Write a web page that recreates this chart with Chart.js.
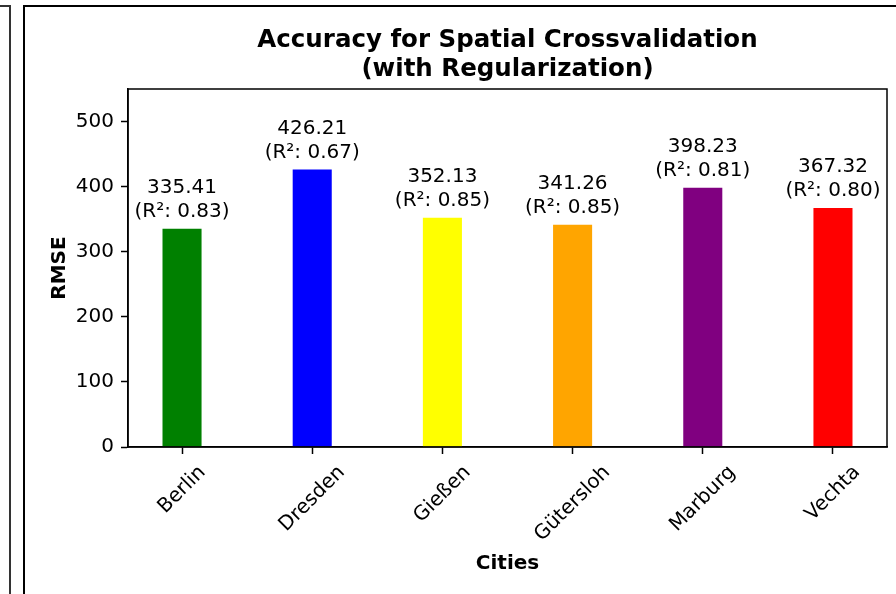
<!DOCTYPE html>
<html>
<head>
<meta charset="utf-8">
<script src="https://cdn.jsdelivr.net/npm/chart.js@4.4.1/dist/chart.umd.min.js"></script>
<style>
  html, body { margin: 0; padding: 0; background: #fff; overflow: hidden; }
  #wrap { position: relative; width: 896px; height: 594px; }
  .panel-left { position: absolute; left: -20px; top: 5px; width: 27px; height: 620px; border: 2px solid #333; }
  .panel-main { position: absolute; left: 23px; top: 5px; width: 920px; height: 620px; border: 2px solid #000; }
  canvas { position: absolute; left: 0; top: 0; }
</style>
</head>
<body>
<div id="wrap">
  <div class="panel-left"></div>
  <div class="panel-main"></div>
  <canvas id="c" width="896" height="594"></canvas>
</div>
<script>
// Spatial cross-validation results per city
const cities = ['Berlin', 'Dresden', 'Gießen', 'Gütersloh', 'Marburg', 'Vechta'];
const rmse = [335.41, 426.21, 352.13, 341.26, 398.23, 367.32];
const r2 = [0.83, 0.67, 0.85, 0.85, 0.81, 0.80];
const barColors = ['green', 'blue', 'yellow', 'orange', 'purple', 'red'];
const yTicks = [0, 100, 200, 300, 400, 500];
const titleLines = ['Accuracy for Spatial Crossvalidation', '(with Regularization)'];
const xTitle = 'Cities';
const yTitle = 'RMSE';

const FONT = '"DejaVu Sans", sans-serif';

// Frame, value annotations, rotated city labels and titles
const annotations = {
  id: 'annotations',
  afterDatasetsDraw(chart) {
    const { ctx, chartArea: a, scales: { x, y } } = chart;
    ctx.save();

    ctx.strokeStyle = '#000';
    ctx.lineWidth = 1.5;
    ctx.strokeRect(a.left, a.top, a.right - a.left, a.bottom - a.top);

    ctx.fillStyle = '#000';
    ctx.font = '20px ' + FONT;
    ctx.textAlign = 'center';
    ctx.textBaseline = 'middle';
    rmse.forEach((v, i) => {
      const px = x.getPixelForValue(i);
      const py = y.getPixelForValue(v);
      ctx.fillText(v.toFixed(2), px, py - 41);
      ctx.fillText('(R²: ' + r2[i].toFixed(2) + ')', px, py - 17);
    });

    const labelTop = a.bottom + 14;
    cities.forEach((c, i) => {
      const w = ctx.measureText(c).width;
      const h = 23.3;
      const half = (w + h) * Math.SQRT1_2 / 2;
      ctx.save();
      ctx.translate(x.getPixelForValue(i), labelTop + half);
      ctx.rotate(-Math.PI / 4);
      ctx.fillText(c, 0, 0);
      ctx.restore();
    });

    const cx = (a.left + a.right) / 2;
    ctx.textBaseline = 'alphabetic';
    ctx.font = 'bold 24.5px ' + FONT;
    ctx.fillText(titleLines[0], cx, 47);
    ctx.fillText(titleLines[1], cx, 76);

    ctx.font = 'bold 20px ' + FONT;
    ctx.fillText(xTitle, cx, 569);

    ctx.save();
    ctx.translate(64.5, (a.top + a.bottom) / 2);
    ctx.rotate(-Math.PI / 2);
    ctx.fillText(yTitle, 0, 0);
    ctx.restore();

    ctx.restore();
  }
};

new Chart(document.getElementById('c'), {
  type: 'bar',
  data: {
    datasets: [{
      data: rmse.map((v, i) => ({ x: i, y: v })),
      backgroundColor: barColors,
      borderWidth: 0,
      barPercentage: 0.3,
      categoryPercentage: 1
    }]
  },
  options: {
    responsive: false,
    animation: false,
    devicePixelRatio: 1,
    layout: { padding: { left: 0, right: 9, top: 89, bottom: 0 } },
    plugins: { legend: { display: false }, tooltip: { enabled: false }, title: { display: false } },
    scales: {
      x: {
        type: 'linear',
        min: -0.415,
        max: 5.415,
        offset: false,
        afterBuildTicks(s) { s.ticks = cities.map((_, i) => ({ value: i })); },
        afterFit(s) { s.height = 147; },
        ticks: { display: false },
        grid: { display: true, offset: false, drawOnChartArea: false, drawTicks: true, tickLength: 7, tickColor: '#000', tickWidth: 1.5 },
        border: { display: true, color: '#000', width: 1.5 }
      },
      y: {
        min: 0,
        max: 550,
        afterBuildTicks(s) { s.ticks = yTicks.map(v => ({ value: v })); },
        afterFit(s) { s.width = 128; },
        ticks: { color: '#000', font: { family: 'DejaVu Sans', size: 20 }, padding: 7 },
        grid: { display: true, drawOnChartArea: false, drawTicks: true, tickLength: 7, tickColor: '#000', tickWidth: 1.5 },
        border: { display: true, color: '#000', width: 1.5 }
      }
    }
  },
  plugins: [annotations]
});
</script>
</body>
</html>
